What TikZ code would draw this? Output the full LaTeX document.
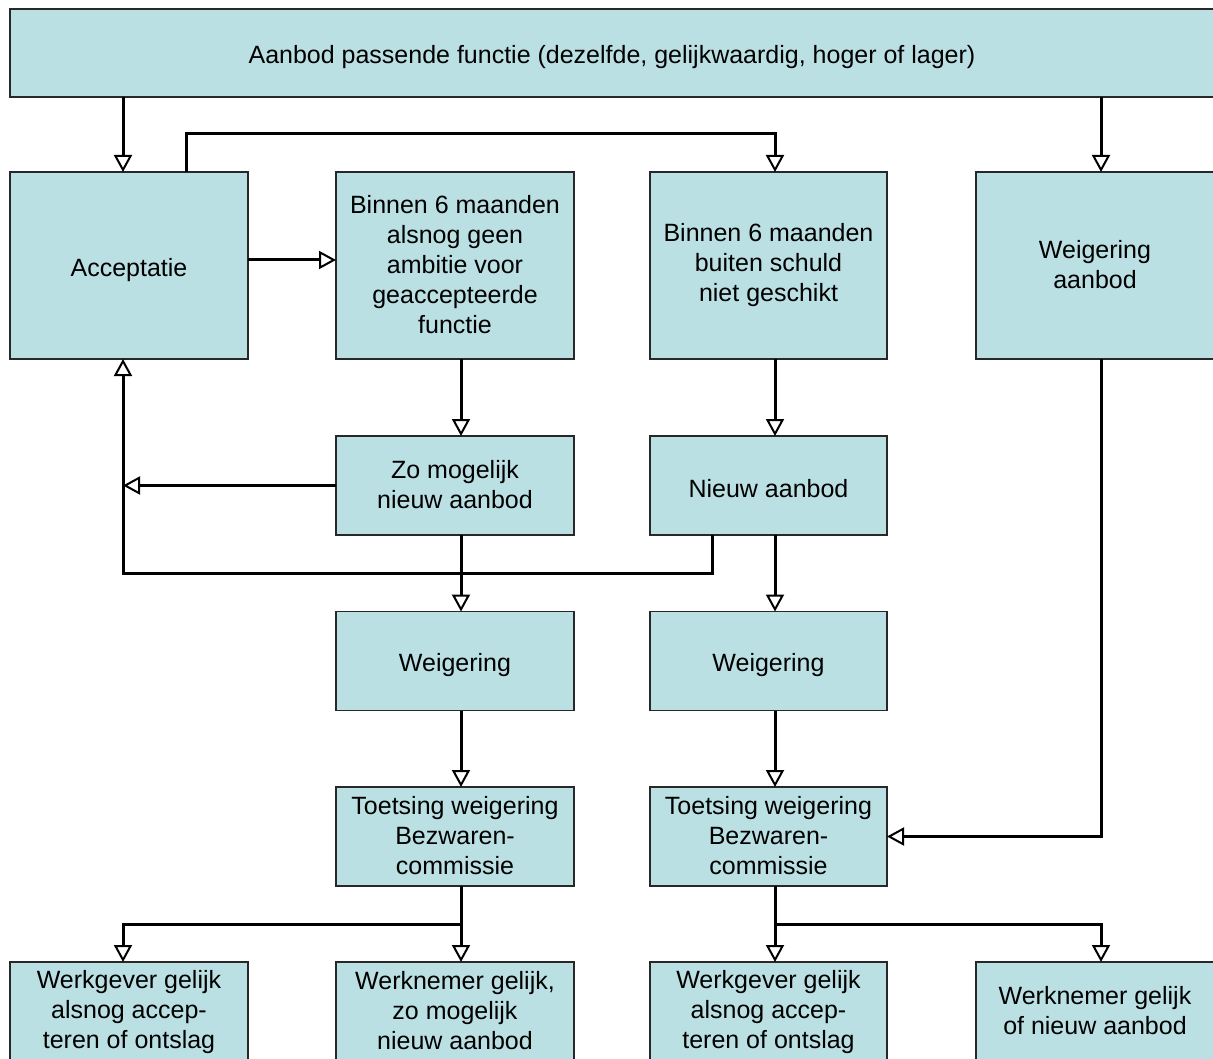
\documentclass[tikz,border=0pt]{standalone}
\usepackage{fontspec}
\setmainfont{Liberation Sans}
\usetikzlibrary{arrows.meta}
\definecolor{boxfill}{RGB}{187,224,227}
\definecolor{boxline}{RGB}{40,40,40}
\newcommand\linestrut{\rule[-3pt]{0pt}{30pt}}
\begin{document}
\begin{tikzpicture}[x=1pt,y=-1pt,
  box/.style={draw=boxline, fill=boxfill, line width=1.3pt, inner sep=0pt, outer sep=0pt,
    align=center, font=\fontsize{25}{30}\selectfont, minimum width=238pt,
    execute at begin node=\linestrut, execute at end node=\linestrut},
  tall/.style={box, minimum height=187pt},
  short/.style={box, minimum height=99pt},
  conn/.style={line width=3pt, line join=miter},
  arr/.style={conn, -{Triangle[length=17pt,width=18pt,fill=white,line width=2pt]}}]
\path[use as bounding box] (0,0) rectangle (1213,1059);
\clip (0,0) rectangle (1213,1059);

\node[box, minimum width=1204pt, minimum height=88pt] (top) at (612,53) {Aanbod passende functie (dezelfde, gelijkwaardig, hoger of lager)};

\node[tall] (acc) at (129,265.5) {Acceptatie};
\node[tall] (b2) at (455,265.5) {Binnen 6 maanden\\alsnog geen\\ambitie voor\\geaccepteerde\\functie};
\node[tall, minimum width=237pt] (b3) at (768.5,265.5) {Binnen 6 maanden\\buiten schuld\\niet geschikt};
\node[tall] (wa) at (1095,265.5) {Weigering\\aanbod};

\node[short] (zo) at (455,485.5) {Zo mogelijk\\nieuw aanbod};
\node[short, minimum width=237pt] (nw) at (768.5,485.5) {Nieuw aanbod};

\node[short] (w1) at (455,661) {Weigering};
\node[short, minimum width=237pt] (w2) at (768.5,661) {Weigering};

\node[short] (t1) at (455,836.5) {Toetsing weigering\\Bezwaren-\\commissie};
\node[short, minimum width=237pt] (t2) at (768.5,836.5) {Toetsing weigering\\Bezwaren-\\commissie};

\node[box, minimum height=100pt] (r1) at (129,1012) {Werkgever gelijk\\alsnog accep-\\teren of ontslag};
\node[box, minimum height=100pt] (r2) at (455,1012) {Werknemer gelijk,\\zo mogelijk\\nieuw aanbod};
\node[box, minimum width=237pt, minimum height=100pt] (r3) at (768.5,1012) {Werkgever gelijk\\alsnog accep-\\teren of ontslag};
\node[box, minimum height=100pt] (r4) at (1095,1012) {Werknemer gelijk\\of nieuw aanbod};

% connector anchor points
\coordinate (accN) at ([xshift=-6pt]acc.north);
\coordinate (accS) at ([xshift=-6pt]acc.south);
\coordinate (waN) at ([xshift=6pt]wa.north);

% top connections
\draw[arr] (accN |- top.south) -- (accN);
\draw[arr] (waN |- top.south) -- (waN);
\draw[arr] ([xshift=57pt]acc.north) -- ++(0,-38) -| ([xshift=6.5pt]b3.north);
\draw[arr] ([yshift=5.5pt]acc.east) -- ([yshift=5.5pt]b2.west);

% middle
\draw[arr] ([xshift=6pt]b2.south) -- ([xshift=6pt]zo.north);
\draw[arr] ([xshift=6.5pt]b3.south) -- ([xshift=6.5pt]nw.north);
\draw[arr] (zo.west) -- (zo.west -| accS);
\draw[arr] ([xshift=-56.5pt]nw.south) -- ++(0,38) -| (accS);
\draw[arr] ([xshift=6pt]zo.south) -- ([xshift=6pt]w1.north);
\draw[arr] ([xshift=6.5pt]nw.south) -- ([xshift=6.5pt]w2.north);
\draw[arr] ([xshift=6pt]w1.south) -- ([xshift=6pt]t1.north);
\draw[arr] ([xshift=6.5pt]w2.south) -- ([xshift=6.5pt]t2.north);
\draw[arr] ([xshift=6pt]wa.south) |- (t2.east);

% bottom
\draw[arr] ([xshift=6pt]t1.south) -- ([xshift=6pt]r2.north);
\draw[arr] ([xshift=6pt]t1.south) -- ++(0,38) -| ([xshift=-6pt]r1.north);
\draw[arr] ([xshift=6.5pt]t2.south) -- ([xshift=6.5pt]r3.north);
\draw[arr] ([xshift=6.5pt]t2.south) -- ++(0,38) -| ([xshift=6pt]r4.north);
\end{tikzpicture}
\end{document}
